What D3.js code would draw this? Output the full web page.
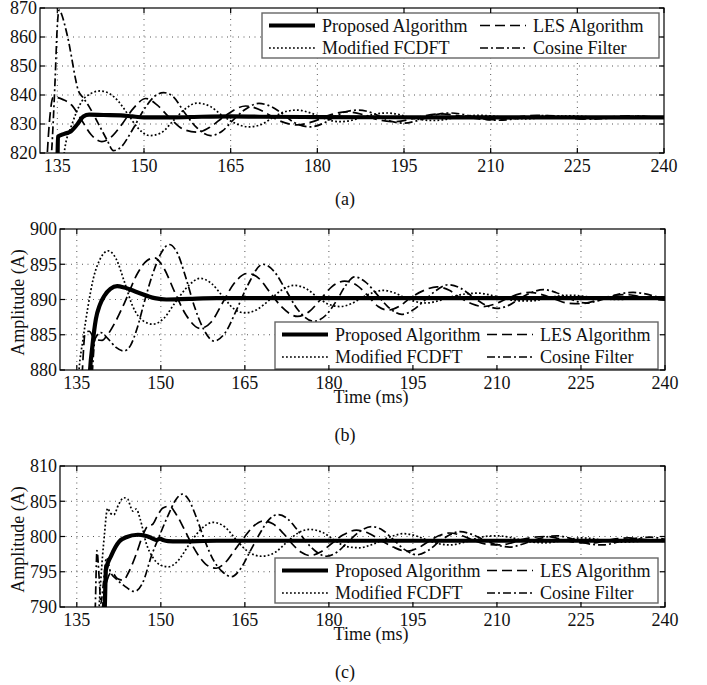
<!DOCTYPE html>
<html>
<head>
<meta charset="utf-8">
<script src="https://cdn.jsdelivr.net/npm/d3@7"></script>
<style>
  html, body { margin: 0; padding: 0; background: #fff; }
  svg { display: block; }
  text { font-family: "Liberation Serif", "Times New Roman", serif; fill: #111; }
</style>
</head>
<body>
<svg id="fig" width="707" height="685"></svg>
<script>
// ---- data: amplitude estimates (A) versus time (ms) ----
const timeTicks = [135, 150, 165, 180, 195, 210, 225, 240];
const seriesNames = ["Proposed Algorithm", "Modified FCDFT", "LES Algorithm", "Cosine Filter"];

// (a)
const aTicks = [820, 830, 840, 850, 860, 870];
const aProposed = [[134.9,805],[135.0,812],[135.1,825.6],[136.2,826.6],[137.3,827.4],[138.5,830],[139.5,832.6],[140.5,833.2],[143,833.1],[146,833],[148,832.6],[150,832.3],[155,832.3],[160,832.5],[165,832.6],[170,832.5],[180,832.4],[200,832.3],[240,832.3]];
const aFcdft = [[135.6,810],[136.3,821.6],[137.5,829.7],[139.2,837.7],[140.8,840.5],[142.4,841.4],[144,840.5],[145.5,838],[147.3,833.1],[149,828.5],[151,826],[153,827],[155,831],[157,835],[159.2,837.2],[161.5,836],[163.5,833],[165.5,830.5],[168.2,829],[170.5,830],[172.5,832.5],[174.5,834.3],[176.5,834.8],[178.5,834],[180.5,832.5],[182.3,831.2],[184,830.8],[186,831.3],[188,832.5],[190,833.4],[192,833.8],[194,833.3],[196,832.2],[198,831.5],[200,831.2],[202,831.5],[204,832.3],[206,832.8],[208,833],[210,832.8],[212,832.3],[214,831.9],[216,831.8],[218,832],[220,832.4],[222,832.7],[224,832.8],[227,832.5],[230,832.1],[233,832],[236,832.3],[240,832.5]];
const aLes = [[133.0,810],[133.6,830],[134.3,839.3],[136,838.4],[137.5,836.5],[139,832],[140.9,826.2],[142.7,823.9],[144.3,825.5],[146.1,829.7],[148.2,835.5],[150.3,838.8],[152.3,836.5],[154.5,832],[157,828],[159.3,827.2],[161.5,829],[163.8,832.5],[167.6,836.2],[170.5,834.5],[173,831.5],[176.5,829.7],[179.5,831],[182,833],[185.1,834.2],[188,833.2],[190.5,831.5],[193.5,830.8],[196.5,831.8],[198.5,832.8],[201.5,833.5],[204.5,832.8],[207,832],[210,831.5],[213,831.9],[215,832.5],[218,833],[221,832.6],[223,832.1],[226,831.8],[229,832.1],[231,832.5],[234,832.8],[237,832.5],[240,832.3]];
const aCosine = [[133.6,810],[134.0,820],[134.6,844.6],[135.0,864],[135.3,869.3],[135.8,867.5],[136.3,864],[137,858],[137.5,852.6],[138.1,846],[138.6,841.7],[139.5,839],[140.5,836],[142,830.5],[143.6,824.5],[144.7,820.8],[146,822],[148,828],[150,835],[151.8,839.5],[153.4,840.8],[155,839.5],[157,834],[159,829],[161.5,826],[163.5,827.5],[165.5,831.5],[167.5,835],[169.9,837.1],[172,836],[174,833.5],[176,830.5],[178.8,829],[181,830.2],[183,832.5],[185,834.3],[187.2,834.8],[189.5,833.8],[191.5,832],[193,830.8],[195,830.3],[197,831],[199,832.3],[201,833.4],[203,833.8],[205,833.4],[207,832.5],[209,831.7],[211.5,831.3],[213.5,831.6],[215.5,832.2],[217.5,832.7],[219.5,832.9],[222,832.7],[224,832.2],[226,831.8],[228,831.7],[230,831.9],[232,832.3],[234,832.6],[236,832.7],[238,832.5],[240,832.3]];

// (b)
const bTicks = [880, 885, 890, 895, 900];
const bProposed = [[137.1,875],[137.3,879],[137.8,883.5],[138.4,887.2],[139.1,889.2],[139.9,890.5],[141,891.5],[142.2,891.9],[143.5,891.7],[145.9,891],[148.9,890.2],[151,890.0],[155,890.1],[160,890.2],[170,890.2],[200,890.2],[240,890.2]];
const bFcdft = [[135.0,875],[135.4,880],[136.1,884.3],[137,889],[137.9,892.8],[139.2,895.8],[140.6,896.9],[142,895.8],[143.5,892.5],[145,889],[146.8,887],[148.6,886.5],[150.5,887.3],[152.5,889.5],[155,892],[157,893],[159,892.3],[161,890.5],[163,888.7],[165,888.1],[167,888.5],[169.5,890],[171.5,891.3],[173.8,892],[176,891.5],[178,890.3],[180,889.3],[182,889],[184,889.4],[186,890.3],[188,891],[189.7,891.3],[191.5,891],[193.5,890.3],[195.5,889.7],[197.4,889.5],[199.5,889.8],[202,890.4],[204.5,890.8],[206.7,890.9],[209,890.6],[211.5,890.1],[214,889.8],[216,889.8],[218.5,890.1],[221,890.5],[223.5,890.6],[226,890.4],[229,890.1],[232,890],[236,890.3],[240,890.3]];
const bLes = [[135.7,875],[136.0,880],[136.5,885.3],[137.2,885.5],[138.2,884.4],[139.5,884.2],[140.5,885],[142,887],[143.5,889.5],[145.9,893.8],[147.5,895.5],[148.9,895.9],[150.5,894.5],[152.5,891],[154.5,887.8],[157,885.9],[159,886.8],[161,889.5],[163,892.2],[165.5,893.7],[167.5,893],[169.5,891],[171.5,889],[174.4,887.6],[176.5,888.3],[178.5,890],[180.5,891.8],[182.8,892.6],[185,892],[187,890.5],[188.8,889],[190.6,888.5],[192.5,889],[194.5,890.2],[197,891.3],[199.3,891.8],[201.5,891.3],[203.5,890.2],[205.5,889.4],[207.6,889],[209.8,889.4],[212,890.2],[214,890.8],[215.9,891],[218,890.7],[220.5,890],[222.5,889.5],[224.8,889.4],[227,889.7],[229,890.2],[231,890.6],[232.9,890.7],[235,890.5],[237.5,890.1],[240,889.9]];
const bCosine = [[137.5,875],[137.8,880],[138.3,884.5],[139.3,885.3],[140.5,884.5],[142,883.2],[143.4,882.7],[144.6,883.5],[145.8,886],[147,889.5],[148.5,893.5],[150,896.5],[151.5,897.8],[153,896.5],[154.5,893],[156,889],[157.5,886],[159.5,884.1],[161.5,885.3],[163.5,888.5],[165.5,892],[168.2,895],[170.2,894],[172.2,891.5],[174.5,888.5],[177.3,886.9],[179.5,887.8],[181.5,890],[183,892],[184.6,893.2],[186.5,892.5],[188.5,890.8],[190.5,889],[193,887.9],[195,888.5],[197,889.8],[199,891.2],[201.3,892.1],[203.5,891.6],[205.5,890.5],[207.5,889.4],[210,888.75],[212.2,889.2],[214.2,890.2],[216.2,891],[218.3,891.4],[220.5,891],[222.5,890.3],[224.3,889.7],[226,889.5],[228,889.8],[230,890.3],[232,890.8],[234.3,891],[236.5,890.8],[238.5,890.4],[240,890.2]];

// (c)
const cTicks = [790, 795, 800, 805, 810];
const cProposed = [[139.8,785],[140.0,790],[140.2,795.3],[141.1,797.2],[142.6,799.3],[143.8,799.9],[145.9,800.25],[147.2,800.1],[148.3,799.8],[149.3,799.5],[149.8,799.7],[150.4,799.5],[151.3,799.35],[153,799.3],[160,799.4],[180,799.4],[240,799.4]];
const cFcdft = [[138.8,785],[139.0,790],[139.3,794],[139.9,800],[140.5,804],[141,803.3],[141.6,803.1],[142.5,804.6],[143.4,805.5],[144.1,805.3],[144.6,804.2],[145.0,803.6],[145.6,803.9],[146.3,802.5],[147.4,799],[148.6,797],[149.8,796],[151.3,795.7],[153,796.5],[155,798.8],[157,800.9],[159.3,802],[161.5,801.3],[163.5,799.5],[165.5,797.9],[168,797.2],[170.5,797.8],[172.5,799.2],[174.5,800.5],[176.6,801],[178.8,800.6],[181,799.5],[183,798.6],[185.5,798.4],[187.5,798.8],[189.5,799.5],[191.5,800.1],[193.3,800.4],[195.5,800.1],[197.5,799.5],[199.5,799],[201.6,798.8],[203.8,799.1],[205.8,799.6],[207.8,800],[210,800.1],[212.2,799.9],[214.3,799.5],[216.5,799.2],[218.5,799.1],[220.7,799.3],[223,799.6],[225,799.8],[227,799.7],[229.5,799.4],[232,799.2],[235,799.3],[238,799.5],[240,799.5]];
const cLes = [[139.3,785],[139.6,790],[140.5,794],[141.2,794.9],[142.3,794],[143.3,793.8],[144.3,795],[145.6,797.5],[146.8,800.2],[147.7,801.5],[148.5,801.7],[149.3,802.8],[150.3,804],[151.5,804.3],[152.7,803.2],[154.2,801],[155.6,798.8],[157,797],[158.5,795.8],[159.9,795.5],[161.5,796.3],[163.3,798.2],[165,800],[166.6,801.5],[168.3,802.2],[170,801.8],[171.8,800.5],[173.5,798.9],[175,797.8],[176.6,797.3],[178.5,797.8],[180.5,799],[182.5,800.2],[184.9,800.9],[187,800.5],[189.2,799.5],[191.5,798.5],[193.9,797.9],[196,798.4],[197.8,799.3],[199.6,800.1],[201.6,800.5],[203.8,800.1],[206,799.4],[208.2,798.9],[210.5,798.8],[212.6,799.1],[214.6,799.6],[216.7,799.9],[218.9,800],[221,799.7],[223,799.3],[225,799.1],[227.2,799.1],[229.3,799.4],[231.5,799.7],[233.5,799.8],[236,799.6],[238.5,799.4],[240,799.3]];
const cCosine = [[138.1,785],[138.3,790],[138.6,798],[139.0,794],[139.3,790.5],[139.7,793],[140.3,797],[141,795],[142,794],[143.5,793],[145.3,792.2],[146.8,793.5],[148.3,797.2],[149.8,800.2],[151.3,803],[152.5,805],[153.8,806],[155,805.2],[156.3,802.8],[157.8,799.5],[159.5,796.5],[161,795],[162.6,794.3],[164.3,795.5],[166,798],[167.8,800.6],[169.3,802.4],[170.9,803.1],[172.5,802.6],[174.3,801],[176,799.2],[177.8,797.8],[179.5,797.2],[181.5,797.8],[183.5,799.3],[185.5,800.7],[187.6,801.4],[189.6,800.9],[191.6,799.5],[193.6,798.1],[195.7,797.4],[197.7,798],[199.6,799.2],[201.5,800.2],[203.4,800.7],[205.5,800.3],[207.8,799.5],[210,798.8],[212.3,798.5],[214.5,798.9],[216.6,799.5],[218.6,799.9],[220.7,800.1],[222.8,799.8],[224.8,799.3],[226.8,798.9],[229,798.8],[231,799.1],[233,799.5],[235.3,799.8],[237.5,799.9],[240,799.6]];

// ---- line styles, in the order of seriesNames ----
const styles = [
  { width: 4.2, dash: null },
  { width: 1.7, dash: "1.8,2.2" },
  { width: 1.7, dash: "10,5" },
  { width: 1.7, dash: "8,3,2,3" }
];

// ---- panel layout ----
const panels = [
  { tag: "(a)", ticks: aTicks, series: [aProposed, aFcdft, aLes, aCosine],
    left: 40, right: 664, top: 8, bottom: 153, yTitle: false, xTitle: false, captionY: 205,
    legend: { x: 262, y: 13, w: 397, h: 45, col2: 218 } },
  { tag: "(b)", ticks: bTicks, series: [bProposed, bFcdft, bLes, bCosine],
    left: 60, right: 665, top: 229, bottom: 370, yTitle: true, xTitle: true, captionY: 441,
    legend: { x: 275, y: 322, w: 383, h: 47, col2: 212 } },
  { tag: "(c)", ticks: cTicks, series: [cProposed, cFcdft, cLes, cCosine],
    left: 60, right: 665, top: 466, bottom: 607, yTitle: true, xTitle: true, captionY: 678,
    legend: { x: 275, y: 558, w: 383, h: 45, col2: 212 } }
];

const svg = d3.select("#fig");
const FS = 18;

panels.forEach((p, i) => {
  const x = d3.scaleLinear().domain([132, 240]).range([p.left, p.right]);
  const y = d3.scaleLinear().domain(d3.extent(p.ticks)).range([p.bottom, p.top]);
  const g = svg.append("g");

  const clipId = "clip" + i;
  svg.append("clipPath").attr("id", clipId)
    .append("rect").attr("x", p.left).attr("y", p.top)
    .attr("width", p.right - p.left).attr("height", p.bottom - p.top);

  // dotted grid
  const grid = g.append("g").attr("stroke", "#555").attr("stroke-width", 1)
    .attr("stroke-dasharray", "1,4.5");
  grid.selectAll("line.gx").data(timeTicks.filter(t => t < 240)).join("line")
    .attr("x1", d => x(d)).attr("x2", d => x(d))
    .attr("y1", p.top).attr("y2", p.bottom);
  grid.selectAll("line.gy").data(p.ticks.slice(1, -1)).join("line")
    .attr("x1", p.left).attr("x2", p.right)
    .attr("y1", d => y(d)).attr("y2", d => y(d));

  // curves
  const line = d3.line().x(d => x(d[0])).y(d => y(d[1])).curve(d3.curveMonotoneX);
  const curves = g.append("g").attr("clip-path", `url(#${clipId})`);
  [1, 2, 3, 0].forEach(k => {
    curves.append("path").datum(p.series[k])
      .attr("d", line).attr("fill", "none").attr("stroke", "#000")
      .attr("stroke-width", styles[k].width)
      .attr("stroke-dasharray", styles[k].dash)
      .attr("stroke-linejoin", "round");
  });

  // legend
  const L = p.legend;
  const lg = g.append("g");
  lg.append("rect").attr("x", L.x).attr("y", L.y).attr("width", L.w).attr("height", L.h)
    .attr("fill", "#fff").attr("stroke", "#666").attr("stroke-width", 1.4);
  const rowY = [L.y + 12.5, L.y + 35];
  const slots = [
    { k: 0, cx: 7, row: 0 }, { k: 1, cx: 7, row: 1 },
    { k: 2, cx: L.col2, row: 0 }, { k: 3, cx: L.col2, row: 1 }
  ];
  slots.forEach(s => {
    const yy = rowY[s.row];
    lg.append("line")
      .attr("x1", L.x + s.cx).attr("x2", L.x + s.cx + 46)
      .attr("y1", yy).attr("y2", yy)
      .attr("stroke", "#000").attr("stroke-width", styles[s.k].width)
      .attr("stroke-dasharray", styles[s.k].dash);
    lg.append("text")
      .attr("x", L.x + s.cx + 53).attr("y", yy + 6)
      .attr("font-size", FS).text(seriesNames[s.k]);
  });

  // frame and inward ticks on all sides
  const fr = g.append("g").attr("stroke", "#000").attr("stroke-width", 1.2);
  fr.append("rect").attr("x", p.left).attr("y", p.top)
    .attr("width", p.right - p.left).attr("height", p.bottom - p.top).attr("fill", "none");
  timeTicks.forEach(t => {
    fr.append("line").attr("x1", x(t)).attr("x2", x(t)).attr("y1", p.bottom).attr("y2", p.bottom - 5);
    fr.append("line").attr("x1", x(t)).attr("x2", x(t)).attr("y1", p.top).attr("y2", p.top + 5);
  });
  p.ticks.forEach(v => {
    fr.append("line").attr("x1", p.left).attr("x2", p.left + 5).attr("y1", y(v)).attr("y2", y(v));
    fr.append("line").attr("x1", p.right).attr("x2", p.right - 5).attr("y1", y(v)).attr("y2", y(v));
  });

  // tick labels
  g.selectAll("text.xt").data(timeTicks).join("text")
    .attr("x", d => x(d)).attr("y", p.bottom + 19)
    .attr("text-anchor", "middle").attr("font-size", FS).text(d => d);
  g.selectAll("text.yt").data(p.ticks).join("text")
    .attr("x", p.left - 3).attr("y", d => y(d)).attr("dy", "0.35em")
    .attr("text-anchor", "end").attr("font-size", FS).text(d => d);

  // titles
  if (p.xTitle) {
    g.append("text").attr("x", 371).attr("y", p.bottom + 33)
      .attr("text-anchor", "middle").attr("font-size", FS).text("Time (ms)");
  }
  if (p.yTitle) {
    g.append("text")
      .attr("transform", `translate(24,${(p.top + p.bottom) / 2 + 3}) rotate(-90)`)
      .attr("text-anchor", "middle").attr("font-size", FS).text("Amplitude (A)");
  }
  g.append("text").attr("x", 345).attr("y", p.captionY)
    .attr("text-anchor", "middle").attr("font-size", FS).text(p.tag);
});
</script>
</body>
</html>
